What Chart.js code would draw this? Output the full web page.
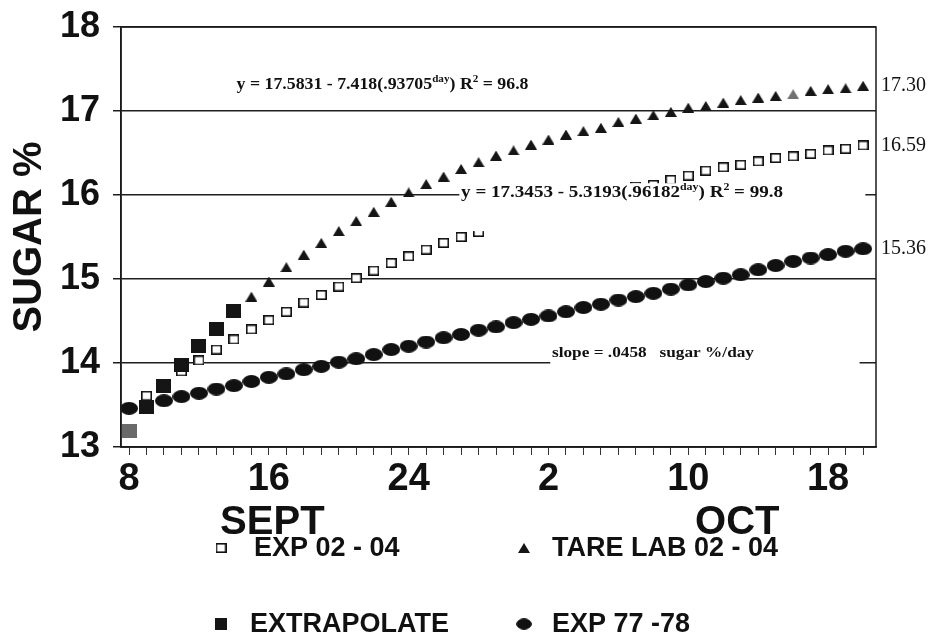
<!DOCTYPE html>
<html>
<head>
<meta charset="utf-8">
<script src="https://cdn.jsdelivr.net/npm/chart.js@4.4.1/dist/chart.umd.min.js"></script>
<style>
  html, body { margin: 0; padding: 0; background: #fff; }
  canvas { display: block; }
</style>
</head>
<body>
<canvas id="sugarChart" width="934" height="639"></canvas>
<script>
// x = day counted from Sept 1 (Oct 1 = 31)
const expNewDays = [9, 11, 12, 13, 14, 15, 16, 17, 18, 19, 20, 21, 22, 23, 24, 25, 26, 27, 28,
  37, 38, 39, 40, 41, 42, 43, 44, 45, 46, 47, 48, 49, 50];
const expNewSugar = [13.61, 13.90, 14.03, 14.16, 14.28, 14.40, 14.51, 14.61, 14.72, 14.81, 14.91, 15.01, 15.10, 15.19, 15.27, 15.35, 15.43, 15.50, 15.56,
  16.10, 16.12, 16.18, 16.23, 16.29, 16.33, 16.36, 16.40, 16.44, 16.46, 16.49, 16.53, 16.55, 16.59];

const tareDays = [15, 16, 17, 18, 19, 20, 21, 22, 23, 24, 25, 26, 27, 28, 29, 30, 31, 32,
  33, 34, 35, 36, 37, 38, 39, 40, 41, 42, 43, 44, 45, 46, 47, 48, 49, 50];
const tareSugar = [14.79, 14.97, 15.14, 15.29, 15.43, 15.57, 15.69, 15.80, 15.92, 16.03, 16.13, 16.22, 16.31, 16.39, 16.47, 16.53, 16.60, 16.66,
  16.72, 16.76, 16.80, 16.87, 16.91, 16.95, 16.99, 17.04, 17.06, 17.10, 17.13, 17.16, 17.18, 17.20, 17.24, 17.26, 17.27, 17.30];

const extrapDays = [8, 9, 10, 11, 12, 13, 14];
const extrapSugar = [13.19, 13.48, 13.73, 13.98, 14.20, 14.41, 14.62];

const oldDays = [8, 10, 11, 12, 13, 14, 15, 16, 17, 18, 19, 20, 21, 22, 23, 24, 25, 26, 27, 28, 29,
  30, 31, 32, 33, 34, 35, 36, 37, 38, 39, 40, 41, 42, 43, 44, 45, 46, 47, 48, 49, 50];
const oldSugar = [13.46, 13.55, 13.60, 13.64, 13.69, 13.73, 13.78, 13.83, 13.87, 13.92, 13.96, 14.01, 14.05, 14.10, 14.16, 14.20, 14.25, 14.30, 14.34, 14.39, 14.43,
  14.48, 14.52, 14.56, 14.61, 14.66, 14.70, 14.75, 14.79, 14.83, 14.88, 14.93, 14.97, 15.01, 15.05, 15.11, 15.16, 15.21, 15.25, 15.29, 15.33, 15.36];

const seriesNames = ["EXP 02 - 04", "TARE LAB 02 - 04", "EXTRAPOLATE", "EXP 77 -78"];
// printed end values: tare lab, exp 02-04, exp 77-78
const endLabels = ["17.30", "16.59", "15.36"];
const endLabelSeries = [1, 0, 3];
const dayTicks = [8, 16, 24, 32, 40, 48];
const dayTickLabels = ["8", "16", "24", "2", "10", "18"];
const monthNames = ["SEPT", "OCT"];
const eq1 = [["y = 17.5831 - 7.418(.93705"], ["day", 1], [") R"], ["2", 1], [" = 96.8"]];
const eq2 = [["y = 17.3453 - 5.3193(.96182"], ["day", 1], [") R"], ["2", 1], [" = 99.8"]];
const slopeText = "slope = .0458   sugar %/day";

const pts = (xs, ys) => xs.map((d, i) => ({ x: d, y: ys[i] }));

function marker(w, h, paint) {
  const c = document.createElement("canvas");
  c.width = w;
  c.height = h;
  paint(c.getContext("2d"), w, h);
  return c;
}
const openSquare = marker(11, 10, (g, w, h) => {
  g.fillStyle = "#fff";
  g.fillRect(0, 0, w, h);
  g.strokeStyle = "#111";
  g.lineWidth = 1.6;
  g.strokeRect(0.8, 0.8, w - 1.6, h - 1.6);
});
const solidSquare = (color) => marker(15, 14, (g, w, h) => {
  g.fillStyle = color;
  g.fillRect(0, 0, w, h);
});
const triangle = (color) => marker(12, 10, (g, w, h) => {
  g.fillStyle = color;
  g.beginPath();
  g.moveTo(w / 2, 0);
  g.lineTo(w, h);
  g.lineTo(0, h);
  g.closePath();
  g.fill();
});
const dot = marker(18, 13, (g, w, h) => {
  g.fillStyle = "#111";
  g.beginPath();
  g.ellipse(w / 2, h / 2, w / 2, h / 2, 0, 0, Math.PI * 2);
  g.fill();
});
const blackSquare = solidSquare("#151515");
const greySquare = solidSquare("#6a6a6a");
const blackTri = triangle("#151515");
const greyTri = triangle("#707070");

function richText(ctx, parts, x, y, size, width) {
  const setFont = (sup) => { ctx.font = `bold ${sup ? Math.round(size * 0.6) : size}px "Liberation Serif"`; };
  let natural = 0;
  parts.forEach(([t, sup]) => { setFont(sup); natural += ctx.measureText(t).width; });
  ctx.save();
  ctx.translate(x, y);
  ctx.scale(width / natural, 1);
  let cx = 0;
  parts.forEach(([t, sup]) => {
    setFont(sup);
    ctx.fillText(t, cx, sup ? -size * 0.35 : 0);
    cx += ctx.measureText(t).width;
  });
  ctx.restore();
}

const notes = {
  id: "notes",
  afterDatasetsDraw(chart) {
    const { ctx, scales: { x, y }, chartArea: a } = chart;
    ctx.save();
    ctx.fillStyle = "#fff";
    // white boxes behind the fitted equations
    ctx.fillRect(x.getPixelForValue(26.9), y.getPixelForValue(16.14),
      x.getPixelForValue(50.13) - x.getPixelForValue(26.9), y.getPixelForValue(15.57) - y.getPixelForValue(16.14));
    ctx.fillRect(x.getPixelForValue(32.1), y.getPixelForValue(14.26),
      x.getPixelForValue(49.8) - x.getPixelForValue(32.1), y.getPixelForValue(13.92) - y.getPixelForValue(14.26));

    ctx.fillStyle = "#111";
    ctx.textBaseline = "middle";
    ctx.textAlign = "left";
    richText(ctx, eq1, x.getPixelForValue(14.15), y.getPixelForValue(17.31), 16, 292);
    richText(ctx, eq2, x.getPixelForValue(27.0), y.getPixelForValue(16.02), 16, 322);
    richText(ctx, [[slopeText]], x.getPixelForValue(32.2), y.getPixelForValue(14.12), 14, 202);

    // plot frame
    ctx.strokeStyle = "#1a1a1a";
    ctx.lineWidth = 1.5;
    ctx.strokeRect(a.left, a.top, a.right - a.left, a.bottom - a.top);

    // end-of-season values
    ctx.font = '20px "Liberation Serif"';
    endLabelSeries.forEach((di, k) => {
      const data = chart.data.datasets[di].data;
      const last = data[data.length - 1];
      ctx.fillText(endLabels[k], a.right + 5, y.getPixelForValue(last.y));
    });

    // month names under the day ticks
    ctx.font = 'bold 40px "Liberation Sans"';
    ctx.textAlign = "center";
    ctx.fillStyle = "#111";
    ctx.fillText(monthNames[0], x.getPixelForValue(16.2), 523);
    ctx.fillText(monthNames[1], x.getPixelForValue(42.8), 523);

    // legend, two columns
    const icons = [openSquare, blackTri, blackSquare, dot];
    const cells = [[221, 548, 254], [524, 548, 552], [221, 624, 250], [524, 624, 552]];
    ctx.font = 'bold 27px "Liberation Sans"';
    ctx.textAlign = "left";
    cells.forEach(([mx, my, tx], i) => {
      const img = icons[i];
      const s = i < 2 ? 1 : 0.85;
      ctx.drawImage(img, mx - img.width * s / 2, my - img.height * s / 2, img.width * s, img.height * s);
      ctx.fillText(seriesNames[i], tx, my + 1);
    });
    ctx.restore();
  }
};

new Chart(document.getElementById("sugarChart"), {
  type: "scatter",
  data: {
    datasets: [
      {
        label: seriesNames[0],
        data: pts(expNewDays, expNewSugar),
        pointStyle: openSquare,
        order: 1,
      },
      {
        label: seriesNames[1],
        data: pts(tareDays, tareSugar),
        pointStyle: (c) => (c.raw && c.raw.x === 46 ? greyTri : blackTri),
        order: 2,
      },
      {
        label: seriesNames[2],
        data: pts(extrapDays, extrapSugar),
        pointStyle: (c) => (c.dataIndex === 0 ? greySquare : blackSquare),
        order: 0,
      },
      {
        label: seriesNames[3],
        data: pts(oldDays, oldSugar),
        pointStyle: dot,
        order: 3,
      },
    ],
  },
  options: {
    responsive: false,
    animation: false,
    layout: { padding: { top: 27, right: 58, left: 0, bottom: 0 } },
    elements: { point: { radius: 6, hoverRadius: 6 } },
    plugins: { legend: { display: false }, tooltip: { enabled: false } },
    scales: {
      x: {
        type: "linear",
        min: 7.54,
        max: 50.74,
        afterFit(scale) {
          scale.height = 192;
          scale.paddingLeft = 0;
          scale.paddingRight = 0;
        },
        border: { display: true, color: "#1a1a1a", width: 1.5 },
        grid: { drawOnChartArea: false, tickLength: 8, color: "#333", lineWidth: 1 },
        ticks: {
          stepSize: 1,
          autoSkip: false,
          maxRotation: 0,
          includeBounds: false,
          padding: 2,
          color: "#111",
          font: { family: "Liberation Sans", size: 38, weight: "bold" },
          callback(value) {
            const i = dayTicks.indexOf(value);
            return i >= 0 ? dayTickLabels[i] : "";
          },
        },
      },
      y: {
        min: 13,
        max: 18,
        afterFit(scale) {
          scale.width = 121;
          scale.paddingTop = 0;
          scale.paddingBottom = 0;
        },
        border: { display: true, color: "#1a1a1a", width: 1.5 },
        grid: {
          tickLength: 8,
          lineWidth: 1.5,
          color: (c) => (c.tick && Number.isInteger(c.tick.value) ? "#1f1f1f" : "rgba(0,0,0,0)"),
          tickColor: "#1f1f1f",
        },
        title: {
          display: true,
          text: "SUGAR %",
          color: "#111",
          padding: { top: 6, bottom: 0 },
          font: { family: "Liberation Sans", size: 40, weight: "bold" },
        },
        ticks: {
          stepSize: 0.5,
          padding: 13,
          color: "#111",
          font: { family: "Liberation Sans", size: 36, weight: "bold" },
          callback(value) {
            return Number.isInteger(value) ? String(value) : "";
          },
        },
      },
    },
  },
  plugins: [notes],
});
</script>
</body>
</html>
